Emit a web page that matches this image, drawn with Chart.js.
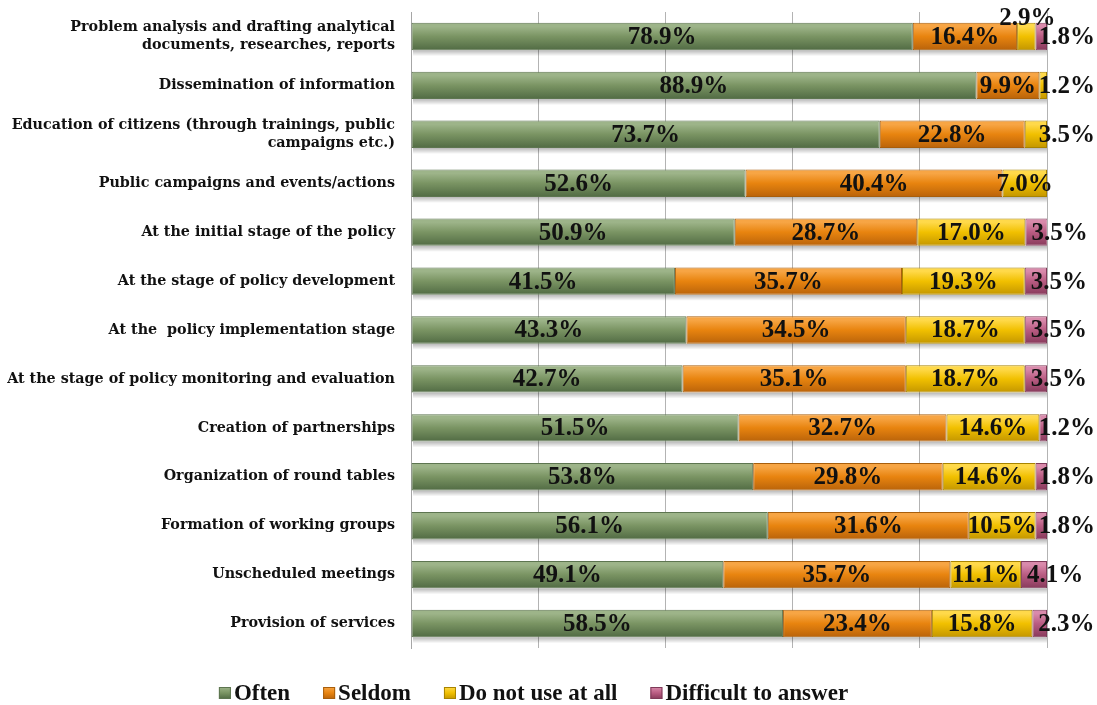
<!DOCTYPE html>
<html>
<head>
<meta charset="utf-8">
<style>
  html, body { margin: 0; padding: 0; background: #fff; }
  #wrap { width: 1097px; height: 705px; }
</style>
<script src="https://cdn.jsdelivr.net/npm/chart.js@4/dist/chart.umd.min.js"></script>
</head>
<body>
<div id="wrap"><canvas id="chart" width="1097" height="705"></canvas></div>
<script>
const categories = [
  ["Problem analysis and drafting analytical", "documents, researches, reports"],
  "Dissemination of information",
  ["Education of citizens (through trainings, public", "campaigns etc.)"],
  "Public campaigns and events/actions",
  "At the initial stage of the policy",
  "At the stage of policy development",
  "At the  policy implementation stage",
  "At the stage of policy monitoring and evaluation",
  "Creation of partnerships",
  "Organization of round tables",
  "Formation of working groups",
  "Unscheduled meetings",
  "Provision of services",
];

const often = [78.9, 88.9, 73.7, 52.6, 50.9, 41.5, 43.3, 42.7, 51.5, 53.8, 56.1, 49.1, 58.5];
const seldom = [16.4, 9.9, 22.8, 40.4, 28.7, 35.7, 34.5, 35.1, 32.7, 29.8, 31.6, 35.7, 23.4];
const notUsed = [2.9, 1.2, 3.5, 7.0, 17.0, 19.3, 18.7, 18.7, 14.6, 14.6, 10.5, 11.1, 15.8];
const difficult = [1.8, 0, 0, 0, 3.5, 3.5, 3.5, 3.5, 1.2, 1.8, 1.8, 4.1, 2.3];

const seriesNames = ["Often", "Seldom", "Do not use at all", "Difficult to answer"];

// top / middle / bottom shades for the bevelled bar look
const shades = [
  ["#9db489", "#7a9463", "#506a43"],
  ["#f7a544", "#e8840f", "#b8620a"],
  ["#ffd94a", "#f1c000", "#c29500"],
  ["#d98aab", "#b95c82", "#86395a"],
];
const edges = ["#5d7550", "#a85e0c", "#a88400", "#7e3a58"];

const SERIF = "'Liberation Serif', 'DejaVu Serif', serif";
const LABEL_SERIF = "'DejaVu Serif', 'Liberation Serif', serif";

function barGradient(i) {
  return (ctx) => {
    const chart = ctx.chart;
    const y = chart.scales.y;
    if (!y || !chart.chartArea || ctx.dataIndex === undefined) return shades[i][1];
    const c = y.getPixelForValue(ctx.dataIndex);
    const h = 14;
    const g = chart.ctx.createLinearGradient(0, c - h, 0, c + h);
    g.addColorStop(0, shades[i][0]);
    g.addColorStop(0.15, shades[i][0]);
    g.addColorStop(0.5, shades[i][1]);
    g.addColorStop(1, shades[i][2]);
    return g;
  };
}

const values = [often, seldom, notUsed, difficult];

const barShadow = {
  id: "barShadow",
  beforeDatasetsDraw(chart) {
    const ctx = chart.ctx;
    const meta = chart.getDatasetMeta(0);
    ctx.save();
    meta.data.forEach((bar) => {
      const top = bar.y + bar.height / 2;
      const g = ctx.createLinearGradient(0, top, 0, top + 6);
      g.addColorStop(0, "rgba(0,0,0,0.28)");
      g.addColorStop(1, "rgba(0,0,0,0)");
      ctx.fillStyle = g;
      ctx.fillRect(chart.chartArea.left + 2, top, chart.chartArea.right - chart.chartArea.left - 2, 6);
    });
    ctx.restore();
  },
};

const dataLabels = {
  id: "dataLabels",
  afterDatasetsDraw(chart) {
    const ctx = chart.ctx;
    ctx.save();
    ctx.font = "bold 25px " + SERIF;
    ctx.fillStyle = "#111";
    ctx.textBaseline = "middle";
    ctx.textAlign = "left";
    chart.data.datasets.forEach((ds, di) => {
      const meta = chart.getDatasetMeta(di);
      meta.data.forEach((bar, idx) => {
        const v = ds.data[idx];
        if (!v) return;
        const text = v.toFixed(1) + "%";
        const w = ctx.measureText(text).width;
        const left = Math.min(bar.base, bar.x);
        const right = Math.max(bar.base, bar.x);
        const seg = right - left;
        let y = bar.y + 1;
        let last = true;
        for (let k = di + 1; k < values.length; k++) if (values[k][idx]) last = false;
        let x;
        if (seg >= w - 14) {
          x = (left + right) / 2 - w / 2;
        } else if (!last) {
          x = (left + right) / 2 + 1 - w / 2;
          y = bar.y - bar.height / 2 - 4;
        } else if (di === 3) {
          x = left + 6;
        } else {
          x = right - 3;
        }
        x = Math.min(x, chart.width - 2 - w);
        ctx.fillText(text, x, y);
      });
    });
    ctx.restore();
  },
};

const bottomLegend = {
  id: "bottomLegend",
  afterDraw(chart) {
    const ctx = chart.ctx;
    ctx.save();
    ctx.font = "bold 23px " + SERIF;
    ctx.textBaseline = "middle";
    const box = 12, gapText = 3, gapItem = 33;
    const widths = seriesNames.map((n) => ctx.measureText(n).width);
    const total = widths.reduce((a, b) => a + b, 0) + seriesNames.length * (box + gapText) + gapItem * (seriesNames.length - 1);
    let x = chart.width / 2 - 15 - total / 2;
    const y = 693;
    seriesNames.forEach((n, i) => {
      const g = ctx.createLinearGradient(0, y - box / 2, 0, y + box / 2);
      g.addColorStop(0, shades[i][0]);
      g.addColorStop(0.5, shades[i][1]);
      g.addColorStop(1, shades[i][2]);
      ctx.fillStyle = g;
      ctx.fillRect(x, y - box / 2, box, box);
      ctx.strokeStyle = edges[i];
      ctx.lineWidth = 1;
      ctx.strokeRect(x + 0.5, y - box / 2 + 0.5, box - 1, box - 1);
      ctx.fillStyle = "#111";
      ctx.textAlign = "left";
      ctx.fillText(n, x + box + gapText, y + 1);
      x += box + gapText + widths[i] + gapItem;
    });
    ctx.restore();
  },
};

new Chart(document.getElementById("chart"), {
  type: "bar",
  data: {
    labels: categories,
    datasets: values.map((data, i) => ({
      label: seriesNames[i],
      data: data,
      backgroundColor: barGradient(i),
      borderColor: edges[i],
      borderWidth: 1,
      borderSkipped: false,
      categoryPercentage: 0.56,
      barPercentage: 1,
    })),
  },
  options: {
    indexAxis: "y",
    responsive: false,
    animation: false,
    layout: { padding: { top: 12, right: 50, bottom: 57, left: 0 } },
    plugins: {
      legend: { display: false },
      tooltip: { enabled: false },
    },
    scales: {
      x: {
        stacked: true,
        min: 0,
        max: 100,
        ticks: { display: false, stepSize: 20 },
        grid: { color: "#b3b3b3", lineWidth: 1, drawTicks: false },
        border: { display: false },
      },
      y: {
        stacked: true,
        afterFit: (s) => { s.width = 411; s.paddingTop = 0; s.paddingBottom = 0; },
        grid: { display: false, drawTicks: false },
        border: { display: true, color: "#a6a6a6", width: 1 },
        ticks: {
          color: "#111",
          padding: 16,
          font: { family: LABEL_SERIF, size: 14.3, weight: "bold", lineHeight: 1.3 },
        },
      },
    },
  },
  plugins: [barShadow, dataLabels, bottomLegend],
});
</script>
</body>
</html>
